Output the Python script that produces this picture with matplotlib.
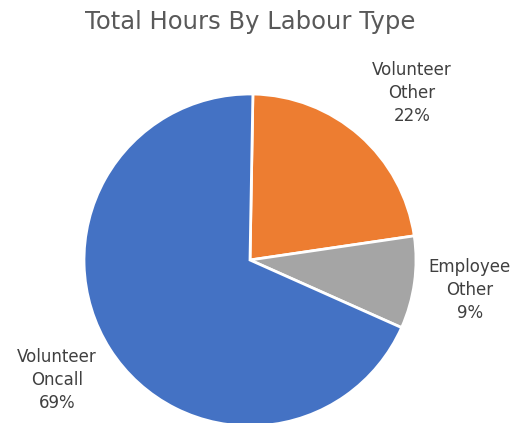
import matplotlib.pyplot as plt

categories = ['Volunteer\nOther', 'Employee\nOther', 'Volunteer\nOncall']
shares = [22.4, 9.0, 68.6]
colors = ['#ED7D31', '#A5A5A5', '#4472C4']

# label positions in pixel coords (x, y from top)
label_pos = [(412, 93), (470, 290), (57, 380)]

W, H = 521, 423
fig = plt.figure(figsize=(W / 100, H / 100), dpi=100)
ax = fig.add_axes([0, 0, 1, 1])

labels = [f'{c}\n{round(p)}%' for c, p in zip(categories, shares)]
wedges, texts = ax.pie(shares, colors=colors, startangle=89, counterclock=False,
                       center=(250, H - 260), radius=166, labels=labels,
                       wedgeprops=dict(edgecolor='white', linewidth=2),
                       textprops=dict(color='#404040', fontsize=12, ha='center', va='center',
                                      linespacing=1.35),
                       frame=True)
ax.axis('off')
ax.set_xlim(0, W)
ax.set_ylim(0, H)
ax.set_aspect('equal')
for t, (x, y) in zip(texts, label_pos):
    t.set_position((x, H - y))
    t.set_ha('center')
    t.set_va('center')

fig.text(250 / W, 1 - 22 / H, 'Total Hours By Labour Type', ha='center', va='center',
         fontsize=17.5, color='#595959')

fig.savefig('out.png', dpi=100)
